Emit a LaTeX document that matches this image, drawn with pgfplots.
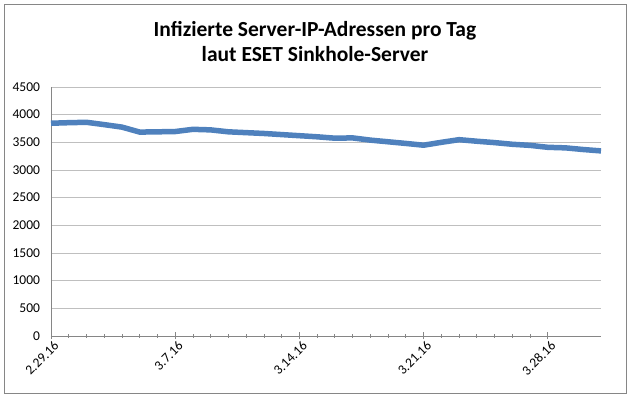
\documentclass[border=0pt]{standalone}
\usepackage{pgfplots}
\pgfplotsset{compat=1.18}
\usepackage{fontspec}
\setmainfont{Carlito}
\definecolor{exblue}{HTML}{4F81BD}
\definecolor{axgray}{HTML}{868686}
\definecolor{gridgray}{HTML}{BFBFBF}
\begin{document}
\begin{tikzpicture}
\path[use as bounding box] (0bp,0bp) rectangle (630bp,397bp);
\draw[axgray, line width=0.8bp] (4bp,4bp) rectangle (626bp,393bp);
\node[font=\fontsize{21.5bp}{25bp}\selectfont\bfseries] at (315bp,366bp) {Infizierte Server-IP-Adressen pro Tag};
\node[font=\fontsize{21.5bp}{25bp}\selectfont\bfseries] at (315bp,343bp) {laut ESET Sinkhole-Server};
\begin{axis}[
  at={(51bp,61bp)}, anchor=south west,
  scale only axis, width=550bp, height=249bp,
  xmin=0, xmax=31, ymin=0, ymax=4500,
  axis lines=left, axis line style={axgray, line width=0.8bp, -},
  ytick={0,500,...,4500},
  ymajorgrids, grid style={gridgray, line width=0.8bp},
  xtick={0,7,14,21,28},
  xticklabels={2.29.16,3.7.16,3.14.16,3.21.16,3.28.16},
  minor x tick num=6,
  tick align=center,
  ytick style={draw=none},
  xtick style={axgray, line width=0.8bp},
  major tick length=7bp, minor tick length=4bp,
  /pgf/number format/assume math mode=true,
  /pgf/number format/1000 sep={},
  tick label style={font=\fontsize{13.5bp}{15bp}\selectfont},
  yticklabel style={xshift=-4bp},
  xticklabel style={rotate=45, anchor=north east, inner sep=1bp, xshift=2bp, yshift=-1bp},
  clip=false,
]
\addplot[exblue, line width=5.5bp, line join=round, line cap=butt] coordinates {
(0,3845) (1,3855) (2,3862) (3,3820) (4,3775) (5,3685) (6,3690) (7,3695)
(8,3735) (9,3725) (10,3690) (11,3675) (12,3660) (13,3640) (14,3620) (15,3600)
(16,3575) (17,3580) (18,3540) (19,3510) (20,3480) (21,3448) (22,3500) (23,3548)
(24,3520) (25,3495) (26,3465) (27,3445) (28,3410) (29,3400) (30,3370) (31,3345)
};
\end{axis}
\end{tikzpicture}
\end{document}
